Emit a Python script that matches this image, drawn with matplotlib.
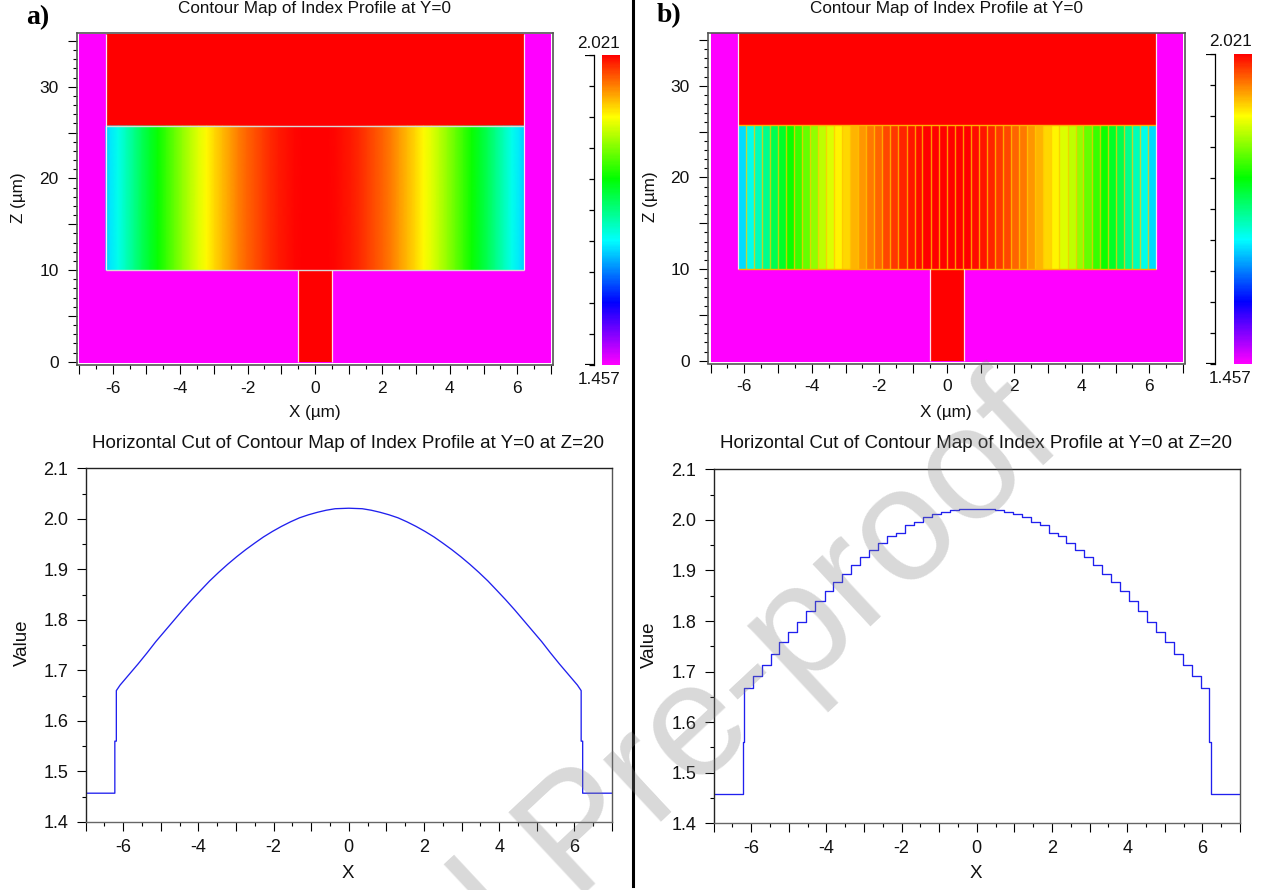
import numpy as np
import matplotlib
matplotlib.use("Agg")
import matplotlib.pyplot as plt
from matplotlib.cm import ScalarMappable
from matplotlib.colors import LinearSegmentedColormap, Normalize
from matplotlib.lines import Line2D

plt.rcParams['font.family'] = ['Liberation Sans', 'DejaVu Sans']

W, H = 1266, 890

N_CLAD = 1.457
N_CORE = 2.021
X_EDGE = 6.2
Z_BOTTOM = 10
Z_MID = 25.7
Z_TOP = 35.7
RIB = 0.5

# smooth profile (panel a)
x_smooth = [-6.2, -6.08, -5.84, -5.6, -5.36, -5.13, -4.89, -4.65, -4.41, -4.17, -3.93, -3.7, -3.46,
            -3.22, -2.98, -2.74, -2.5, -2.27, -2.03, -1.79, -1.55, -1.31, -1.07, -0.83, -0.6, -0.36, 0,
            0.36, 0.6, 0.83, 1.07, 1.31, 1.55, 1.79, 2.03, 2.27, 2.5, 2.74, 2.98, 3.22,
            3.46, 3.7, 3.93, 4.17, 4.41, 4.65, 4.89, 5.13, 5.36, 5.6, 5.84, 6.08, 6.2]
n_smooth = [1.660, 1.671, 1.692, 1.713, 1.735, 1.757, 1.778, 1.799, 1.820, 1.840, 1.859, 1.877, 1.894,
            1.910, 1.925, 1.939, 1.952, 1.964, 1.975, 1.985, 1.994, 2.002, 2.008, 2.013, 2.017, 2.020, 2.021,
            2.020, 2.017, 2.013, 2.008, 2.002, 1.994, 1.985, 1.975, 1.964, 1.952, 1.939, 1.925, 1.910,
            1.894, 1.877, 1.859, 1.840, 1.820, 1.799, 1.778, 1.757, 1.735, 1.713, 1.692, 1.671, 1.660]

# stepped profile (panel b): 52 cells
x_cells = [-6.2, -5.96, -5.72, -5.48, -5.25, -5.01, -4.77, -4.53, -4.29, -4.05, -3.82, -3.58, -3.34,
           -3.10, -2.86, -2.62, -2.38, -2.15, -1.91, -1.67, -1.43, -1.19, -0.95, -0.72, -0.48, -0.24, 0,
           0.24, 0.48, 0.72, 0.95, 1.19, 1.43, 1.67, 1.91, 2.15, 2.38, 2.62, 2.86, 3.10,
           3.34, 3.58, 3.82, 4.05, 4.29, 4.53, 4.77, 5.01, 5.25, 5.48, 5.72, 5.96, 6.2]
n_cells = [1.667, 1.691, 1.713, 1.734, 1.759, 1.778, 1.799, 1.820, 1.840, 1.859, 1.878, 1.892, 1.911,
           1.926, 1.940, 1.954, 1.968, 1.975, 1.989, 1.996, 2.005, 2.011, 2.016, 2.019,
           2.021, 2.021, 2.021, 2.021,
           2.019, 2.016, 2.011, 2.005, 1.996, 1.989, 1.975, 1.968, 1.954, 1.940, 1.926, 1.911,
           1.892, 1.878, 1.859, 1.840, 1.820, 1.799, 1.778, 1.759, 1.734, 1.713, 1.691, 1.667]

cbar_ticks = [1.457, 1.5134, 1.5698, 1.6262, 1.6826, 1.739, 1.7954, 1.8518, 1.9082, 1.9646, 2.021]
x_major = list(range(-7, 8))
x_labels = ['', '-6', '', '-4', '', '-2', '', '0', '', '2', '', '4', '', '6', '']
x_minor = [v + 0.5 for v in range(-7, 7)]
z_major = [0, 5, 10, 15, 20, 25, 30, 35]
z_labels = ['0', '', '10', '', '20', '', '30', '']
z_minor = list(range(0, 36))
v_major = [1.4, 1.5, 1.6, 1.7, 1.8, 1.9, 2.0, 2.1]
v_minor = [1.45, 1.55, 1.65, 1.75, 1.85, 1.95, 2.05]

cmap = LinearSegmentedColormap.from_list('index', ['#ff00ff', '#0000ff', '#00ffff', '#00ff00', '#ffff00', '#ff0000'])
norm = Normalize(N_CLAD, N_CORE)

fig = plt.figure(figsize=(W / 100, H / 100), dpi=100)


def px_axes(left, top, right, bottom):
    return fig.add_axes([left / W, 1 - bottom / H, (right - left) / W, (bottom - top) / H])


def px_text(x, y, s, **kw):
    kw.setdefault('ha', 'center')
    kw.setdefault('va', 'center')
    kw.setdefault('fontsize', 12.3)
    kw.setdefault('color', '#111111')
    return fig.text(x / W, 1 - y / H, s, **kw)


def contour_panel(frame, x_px, z_px, stepped):
    left, top, right, bottom = frame
    ax = px_axes(left, top, right, bottom)
    ux = (x_px[1] - x_px[0]) / 14
    uz = (z_px[0] - z_px[1]) / 30
    ax.set_xlim(-7 - (x_px[0] - left) / ux, 7 + (right - x_px[1]) / ux)
    ax.set_ylim(-(bottom - z_px[0]) / uz, (z_px[0] - top) / uz)

    ax.pcolormesh([-7, 7], [-0.1, Z_TOP], [[N_CLAD]], cmap=cmap, norm=norm)
    ax.pcolormesh([-X_EDGE, X_EDGE], [Z_MID, Z_TOP], [[N_CORE]], cmap=cmap, norm=norm)
    ax.pcolormesh([-RIB, RIB], [0, Z_BOTTOM], [[N_CORE]], cmap=cmap, norm=norm)
    if stepped:
        ax.pcolormesh(x_cells, [Z_BOTTOM, Z_MID], [n_cells], cmap=cmap, norm=norm)
        ax.vlines(x_cells[1:-1], Z_BOTTOM, Z_MID, color='#ffc800', lw=1.0, alpha=0.75)
        ax.hlines([Z_BOTTOM, Z_MID], -X_EDGE, X_EDGE, color='#ffb000', lw=1.0)
    else:
        ax.pcolormesh(x_smooth, [Z_BOTTOM, Z_MID], [n_smooth, n_smooth], cmap=cmap, norm=norm, shading='gouraud')
        ax.hlines([Z_BOTTOM, Z_MID], -X_EDGE, X_EDGE, color='#d8d8d8', lw=1.0)
    ax.vlines([-X_EDGE, X_EDGE], Z_BOTTOM, Z_TOP, color='#f4e8f4', lw=0.9)
    ax.vlines([-RIB, RIB], 0, Z_BOTTOM, color='#ffd8e8', lw=0.9)

    ax.set_xticks(x_major, x_labels)
    ax.set_xticks(x_minor, minor=True)
    ax.set_yticks(z_major, z_labels)
    ax.set_yticks(z_minor, minor=True)
    ax.tick_params(which='major', length=6.5, width=0.8, labelsize=12.5, labelcolor='#111111')
    ax.tick_params(axis='x', which='major', pad=4.7)
    ax.tick_params(axis='y', which='major', pad=6.3)
    ax.tick_params(which='minor', length=3, width=0.8)
    for s in ax.spines.values():
        s.set_color('#555555')
        s.set_linewidth(1.2)
    return ax


def cut_panel(frame, xs, ys):
    ax = px_axes(*frame)
    ax.plot(xs, ys, color='#2020ee', lw=0.95)
    ax.set_xlim(-7, 7)
    ax.set_ylim(1.4, 2.1)
    ax.set_xticks(x_major, x_labels)
    ax.set_xticks(x_minor, minor=True)
    ax.set_yticks(v_major, [f'{v:.1f}' for v in v_major])
    ax.set_yticks(v_minor, minor=True)
    ax.tick_params(which='major', length=6.5, width=0.8, labelsize=13, labelcolor='#111111')
    ax.tick_params(axis='x', which='major', pad=5.8)
    ax.tick_params(axis='y', which='major', pad=6)
    ax.tick_params(which='minor', length=3, width=0.8)
    ax.spines['top'].set_color('#222222')
    ax.spines['left'].set_color('#222222')
    ax.spines['bottom'].set_color('#666666')
    ax.spines['right'].set_color('#555555')
    for s in ax.spines.values():
        s.set_linewidth(1.0)
    return ax


def colour_bar(bar, line_px, tick_left):
    left, top, right, bottom = bar
    cax = px_axes(left, top, right, bottom)
    cb = fig.colorbar(ScalarMappable(norm=norm, cmap=cmap), cax=cax)
    cb.outline.set_visible(False)
    cb.set_ticks([])
    tax = px_axes(tick_left, top, line_px, bottom)
    tax.set_ylim(N_CLAD, N_CORE)
    tax.set_xticks([])
    tax.set_yticks(cbar_ticks, [])
    tax.yaxis.tick_right()
    tax.tick_params(axis='y', direction='in', length=3.8, width=0.9, right=True, left=False)
    tax.patch.set_visible(False)
    for name in ['left', 'top', 'bottom']:
        tax.spines[name].set_visible(False)
    tax.spines['right'].set_linewidth(0.9)
    # longer end ticks of the bracket
    tax.hlines([N_CLAD, N_CORE], 0, 1, color='black', lw=1.6, transform=tax.get_yaxis_transform())


# top row
contour_panel((76.5, 33, 552.5, 365), (79, 551), (361.7, 86.7), False)
contour_panel((707.5, 32.7, 1184.5, 363.5), (710.5, 1183), (360.7, 85.7), True)
colour_bar((601.5, 54.5, 619.5, 365), 593.5, 585)
colour_bar((1234, 53.5, 1252, 364), 1215, 1206)

# bottom row
step_x = [-7, -6.22, -6.22, -6.18, -6.18]
step_n = [N_CLAD, N_CLAD, 1.56, 1.56, 1.66]
a_x = step_x + x_smooth[1:-1] + [6.18, 6.18, 6.22, 6.22, 7]
a_n = step_n + n_smooth[1:-1] + [1.66, 1.56, 1.56, N_CLAD, N_CLAD]
cut_panel((85.5, 468.3, 612, 822), a_x, a_n)

b_x = [-7, -6.22, -6.22, -6.18]
b_n = [N_CLAD, N_CLAD, 1.56, 1.56]
for i, v in enumerate(n_cells):
    b_x += [x_cells[i] if i else -6.18, x_cells[i + 1] if i < 51 else 6.18]
    b_n += [v, v]
b_x += [6.18, 6.22, 6.22, 7]
b_n += [1.56, 1.56, N_CLAD, N_CLAD]
cut_panel((713.6, 469.3, 1240, 823.3), b_x, b_n)

# texts
px_text(315, 8, 'Contour Map of Index Profile at Y=0')
px_text(946, 8, 'Contour Map of Index Profile at Y=0')
px_text(348, 443, 'Horizontal Cut of Contour Map of Index Profile at Y=0 at Z=20', fontsize=13.5)
px_text(976, 443, 'Horizontal Cut of Contour Map of Index Profile at Y=0 at Z=20', fontsize=13.5)
px_text(315, 412, 'X (µm)')
px_text(946, 412, 'X (µm)')
px_text(19, 198, 'Z (µm)', rotation=90)
px_text(650, 197, 'Z (µm)', rotation=90)
px_text(348, 873, 'X', fontsize=13.5)
px_text(976, 874, 'X', fontsize=13.5)
px_text(22, 643, 'Value', rotation=90, fontsize=13.5)
px_text(649, 645, 'Value', rotation=90, fontsize=13.5)
px_text(598, 43, '2.021')
px_text(599, 379, '1.457')
px_text(1230, 42, '2.021')
px_text(1230, 378, '1.457')
px_text(38, 18, 'a)', family='Liberation Serif', weight='bold', fontsize=20, color='black')
px_text(669, 16, 'b)', family='Liberation Serif', weight='bold', fontsize=20, color='black')

fig.add_artist(Line2D([632.5 / W, 632.5 / W], [1 - 886 / H, 1], color='black', lw=2.2))

px_text(583, 838, 'Journal Pre-proof', fontsize=116, rotation=43, rotation_mode='anchor',
        color=(0.5, 0.5, 0.5), alpha=0.3)

fig.savefig('out.png', dpi=100)
